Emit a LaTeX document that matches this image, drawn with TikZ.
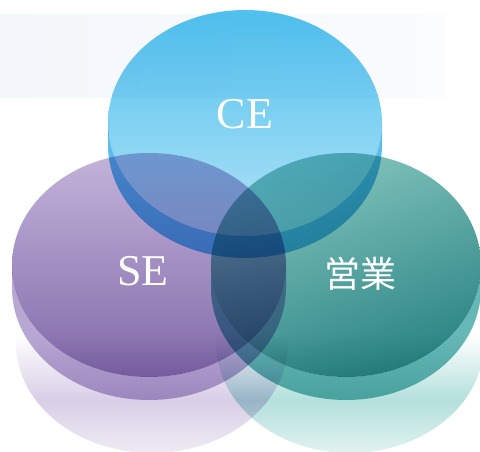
\documentclass[tikz,border=0pt]{standalone}
\usepackage{fontspec}
\setmainfont{Liberation Serif}
\newfontfamily\jpfont{Noto Sans CJK JP}
\definecolor{bgBlue}{HTML}{F3F7FB}
\definecolor{ceTop}{HTML}{50C2EF}
\definecolor{ceMid}{HTML}{6ECBF1}
\definecolor{ceBot}{HTML}{B3E2F6}
\definecolor{ceSide}{HTML}{5ABDEE}
\definecolor{seTop}{HTML}{C3B4DA}
\definecolor{seMid}{HTML}{9A82BC}
\definecolor{seBot}{HTML}{8169A9}
\definecolor{seSide}{HTML}{B9A7D3}
\definecolor{seRefl}{HTML}{D8CEE6}
\definecolor{egTop}{HTML}{86C6BF}
\definecolor{egMid}{HTML}{339994}
\definecolor{egBot}{HTML}{2A8484}
\definecolor{egSide}{HTML}{66B8B6}
\definecolor{egRefl}{HTML}{B4E0DC}
\pgfdeclareverticalshading{seglow}{100bp}{color(0bp)=(white); color(25bp)=(white!60!seRefl); color(37bp)=(seRefl); color(46bp)=(seRefl!40!white); color(52bp)=(white); color(100bp)=(white)}
\pgfdeclareverticalshading{egglow}{100bp}{color(0bp)=(white); color(25bp)=(white!60!egRefl); color(37bp)=(egRefl); color(46bp)=(egRefl!40!white); color(52bp)=(white); color(100bp)=(white)}
\begin{document}
\begin{tikzpicture}[x=1pt,y=1pt,
	mult/.style={blend mode=multiply},
	disc label/.style={text=white,font=\fontsize{44}{44}\selectfont}]
	\useasboundingbox (0,0) rectangle (480,452);
	\shade[left color=bgBlue,right color=bgBlue!40!white] (0,354) rectangle (445,437);
	\shade[shading=seglow] (152,109) ellipse [x radius=136,y radius=110];
	\shade[shading=egglow,mult] (350,109) ellipse [x radius=134,y radius=110];
	\fill[seSide,mult] (12,187) -- ++(0,-23) arc[start angle=180,end angle=360,x radius=137,y radius=112]
		-- ++(0,23) arc[start angle=0,end angle=-180,x radius=137,y radius=112] -- cycle;
	\shade[top color=seTop,middle color=seMid,bottom color=seBot,mult] (149,187) ellipse [x radius=137,y radius=112];
	\fill[egSide,mult] (211,187) -- ++(0,-23) arc[start angle=180,end angle=360,x radius=135,y radius=112]
		-- ++(0,23) arc[start angle=0,end angle=-180,x radius=135,y radius=112] -- cycle;
	\shade[top color=egTop,middle color=egMid,bottom color=egBot,shading angle=20,mult] (346,187) ellipse [x radius=135,y radius=112];
	\fill[ceSide,mult] (108,329) -- ++(0,-22) arc[start angle=180,end angle=360,x radius=137,y radius=113]
		-- ++(0,22) arc[start angle=0,end angle=-180,x radius=137,y radius=113] -- cycle;
	\shade[top color=ceTop,middle color=ceMid,bottom color=ceBot,mult] (245,329) ellipse [x radius=137,y radius=113];
	\node[disc label] (ce) at (245,338) {CE};
	\node[disc label] (se) at (143,181) {SE};
	\node[disc label,font=\jpfont\fontsize{36}{36}\selectfont] (eigyo) at (360,178) {営業};
\end{tikzpicture}
\end{document}
